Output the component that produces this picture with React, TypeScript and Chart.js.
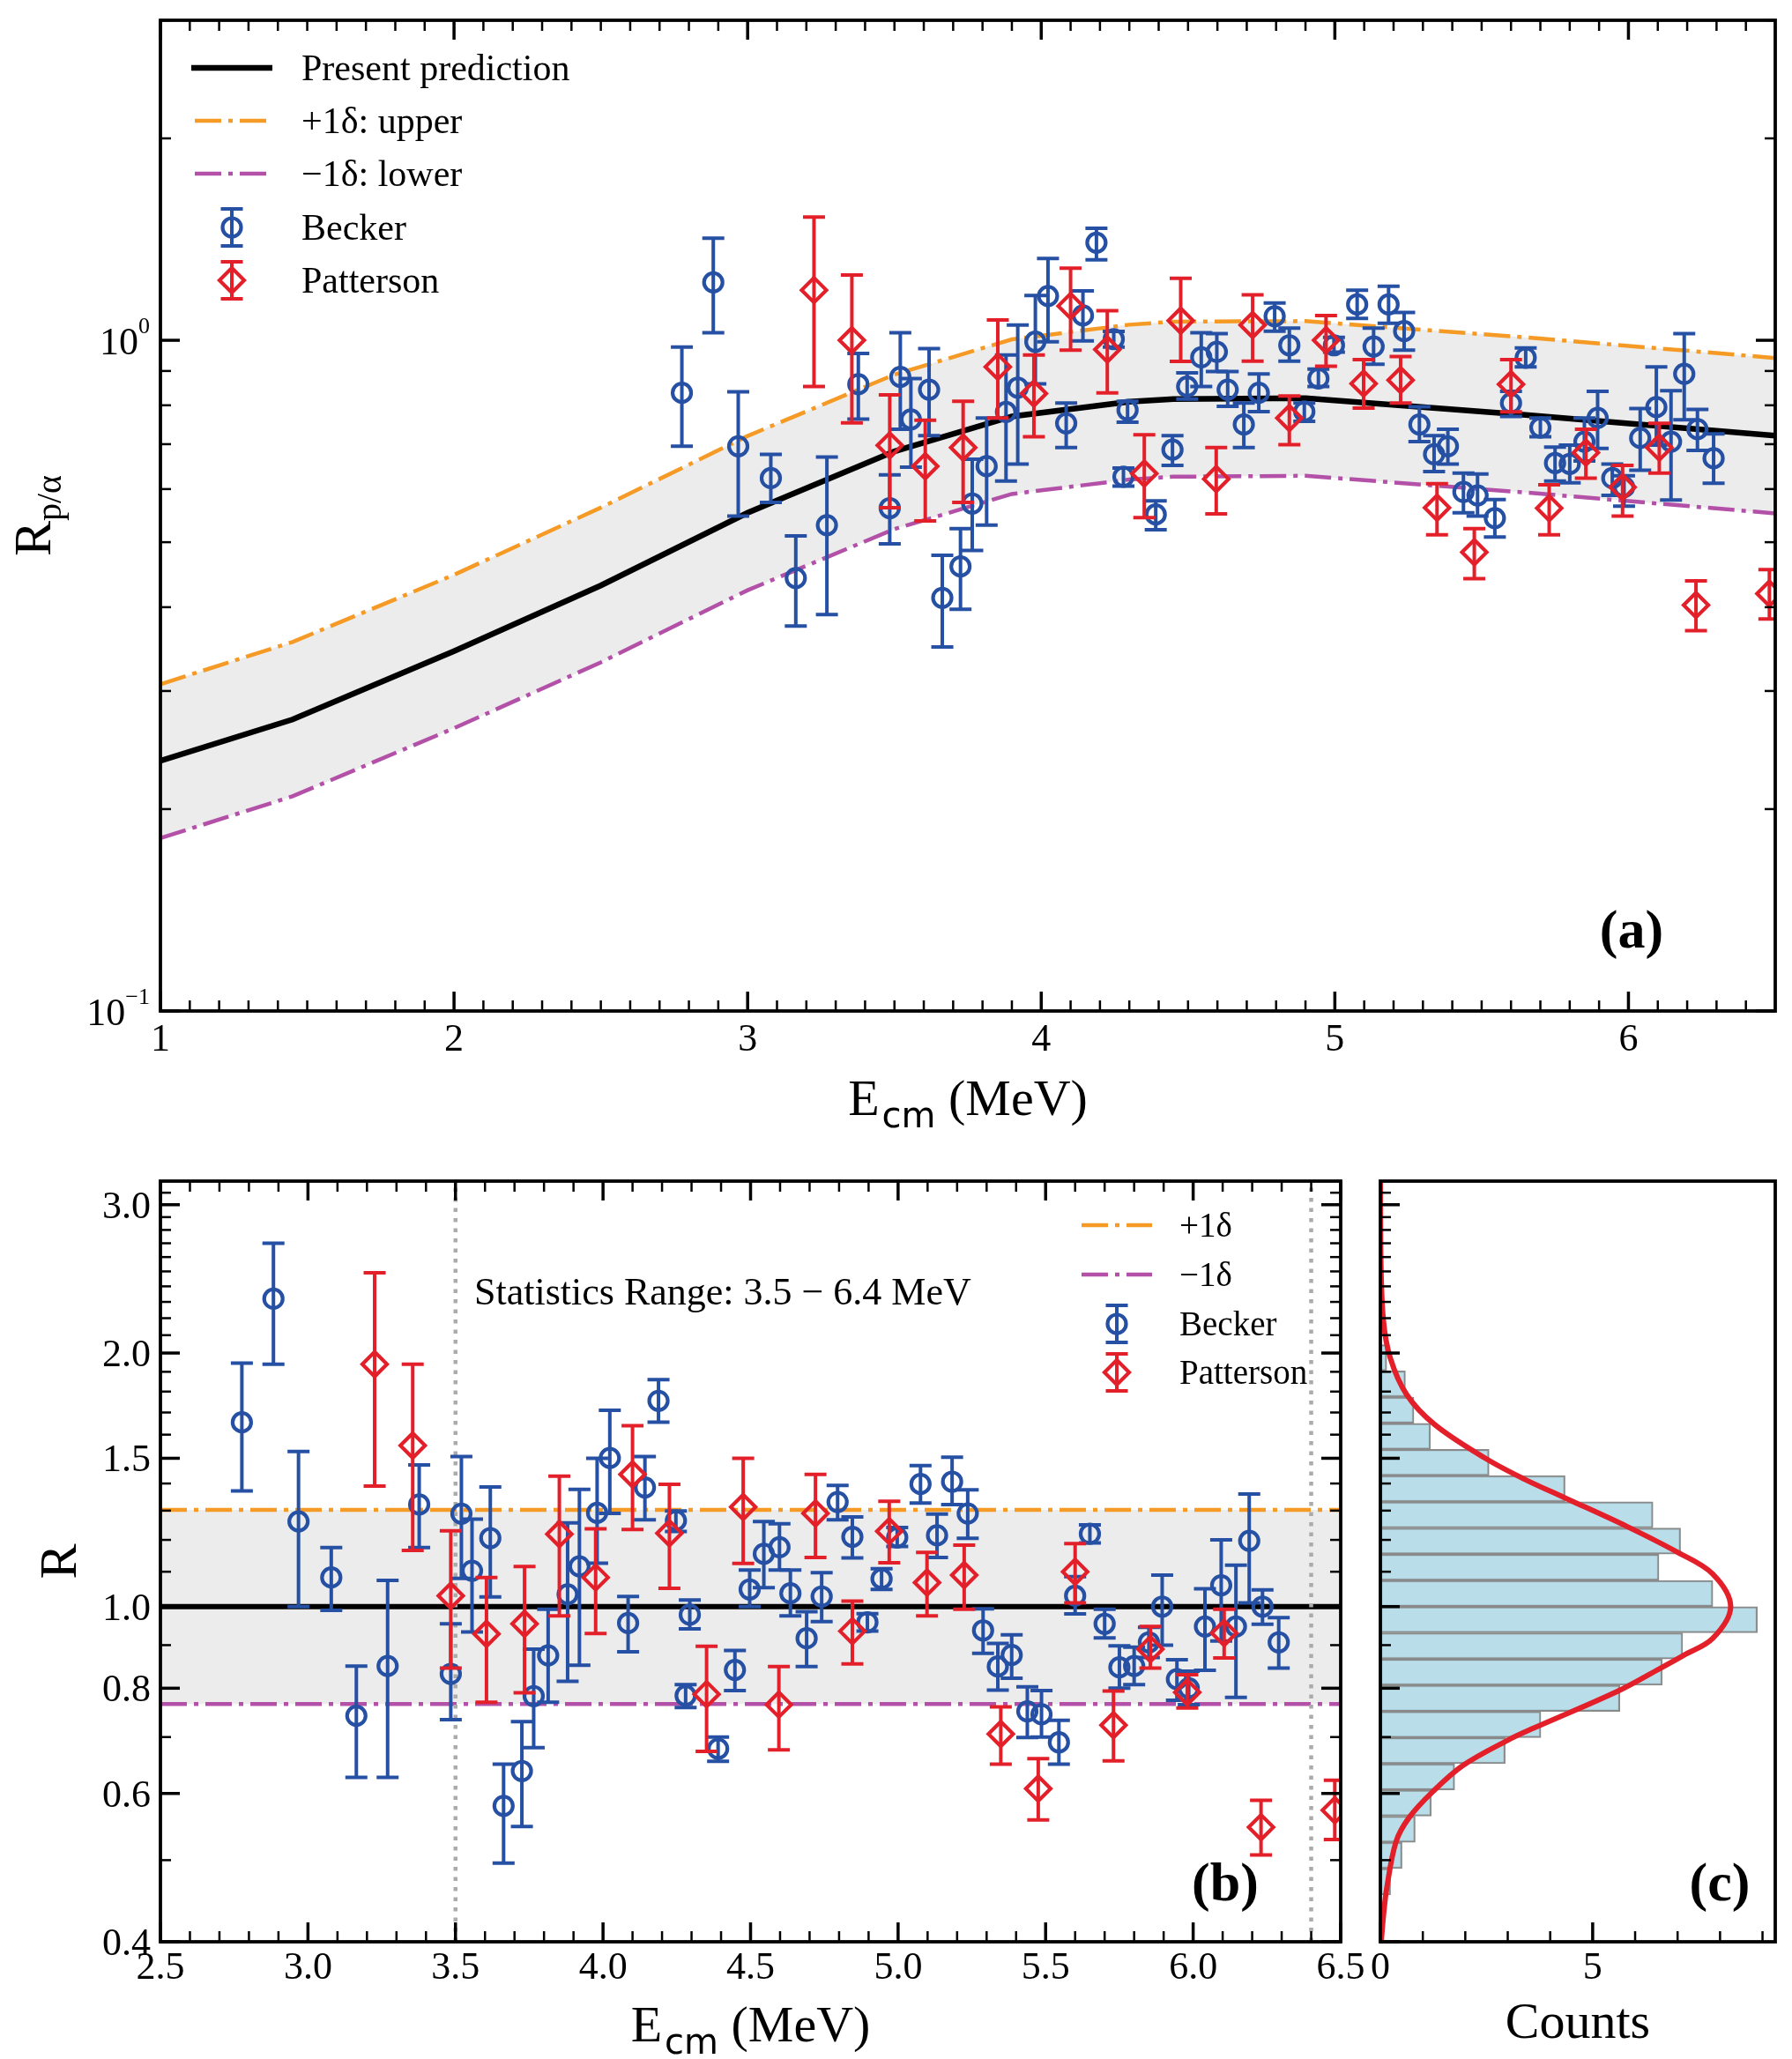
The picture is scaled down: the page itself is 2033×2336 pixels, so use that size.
import React, { useEffect, useRef } from "react";
import { Chart, registerables } from "chart.js";

Chart.register(...registerables);

/* ===================== DATA ===================== */
// Panel (a): prediction and +/-1 delta curves
const PRED_E = [1.0, 1.45, 2.0, 2.5, 3.0, 3.5, 3.9, 4.3, 4.45, 4.9, 5.65, 6.5];
const PRED = [0.236, 0.272, 0.344, 0.431, 0.553, 0.683, 0.77, 0.81, 0.817, 0.82, 0.774, 0.721];
const UPPER = [0.307, 0.355, 0.447, 0.563, 0.72, 0.889, 1.003, 1.055, 1.066, 1.068, 1.01, 0.941];
const LOWER = [0.181, 0.209, 0.264, 0.331, 0.424, 0.523, 0.59, 0.62, 0.626, 0.628, 0.593, 0.552];

// Becker data (energies shared by panels a and b)
const BECKER_E = [2.776, 2.883, 2.968, 3.079, 3.164, 3.27, 3.377, 3.484, 3.52, 3.556, 3.618, 3.663, 3.725, 3.765, 3.814, 3.88, 3.92, 3.98, 4.023, 4.085, 4.142, 4.188, 4.247, 4.294, 4.28, 4.39, 4.447, 4.497, 4.545, 4.598, 4.635, 4.69, 4.741, 4.795, 4.845, 4.896, 4.944, 4.997, 5.076, 5.132, 5.183, 5.236, 5.288, 5.338, 5.385, 5.438, 5.486, 5.545, 5.6, 5.65, 5.7, 5.75, 5.8, 5.85, 5.895, 5.945, 5.985, 6.04, 6.095, 6.145, 6.19, 6.235, 6.29];
const BECKER_RPA = [0.835, 1.22, 0.695, 0.623, 0.442, 0.53, 0.86, 0.562, 0.882, 0.762, 0.844, 0.413, 0.46, 0.571, 0.649, 0.782, 0.85, 0.995, 1.164, 0.752, 1.089, 1.398, 1.004, 0.787, 0.626, 0.55, 0.687, 0.853, 0.943, 0.961, 0.844, 0.749, 0.835, 1.086, 0.983, 0.783, 0.877, 0.983, 1.131, 0.979, 1.131, 1.032, 0.749, 0.676, 0.695, 0.594, 0.587, 0.543, 0.806, 0.942, 0.741, 0.656, 0.654, 0.706, 0.766, 0.623, 0.604, 0.715, 0.795, 0.706, 0.891, 0.737, 0.667];
const BECKER_RPA_LO = [0.695, 1.026, 0.547, 0.573, 0.375, 0.39, 0.763, 0.497, 0.737, 0.647, 0.721, 0.349, 0.397, 0.486, 0.53, 0.617, 0.654, 0.861, 0.995, 0.692, 0.998, 1.318, 0.977, 0.755, 0.606, 0.522, 0.651, 0.817, 0.853, 0.898, 0.797, 0.692, 0.783, 1.032, 0.931, 0.757, 0.853, 0.96, 1.078, 0.921, 1.06, 0.967, 0.706, 0.637, 0.654, 0.553, 0.547, 0.509, 0.77, 0.913, 0.718, 0.617, 0.613, 0.661, 0.69, 0.587, 0.566, 0.64, 0.698, 0.578, 0.761, 0.685, 0.612];
const BECKER_RPA_HI = [0.977, 1.42, 0.838, 0.676, 0.511, 0.67, 0.956, 0.63, 1.026, 0.877, 0.972, 0.478, 0.524, 0.665, 0.766, 0.951, 1.054, 1.166, 1.324, 0.806, 1.185, 1.469, 1.031, 0.811, 0.645, 0.576, 0.721, 0.894, 1.026, 1.023, 0.898, 0.806, 0.891, 1.137, 1.043, 0.806, 0.906, 1.01, 1.188, 1.043, 1.204, 1.1, 0.796, 0.721, 0.737, 0.634, 0.632, 0.579, 0.839, 0.974, 0.766, 0.693, 0.698, 0.766, 0.839, 0.654, 0.628, 0.791, 0.913, 0.841, 1.023, 0.789, 0.725];
const BECKER_R = [1.655, 2.32, 1.262, 1.083, 0.742, 0.85, 1.322, 0.832, 1.289, 1.103, 1.206, 0.58, 0.638, 0.783, 0.875, 1.034, 1.116, 1.292, 1.501, 0.956, 1.385, 1.755, 1.265, 0.978, 0.784, 0.678, 0.841, 1.048, 1.155, 1.176, 1.037, 0.917, 1.028, 1.331, 1.21, 0.958, 1.079, 1.208, 1.398, 1.215, 1.407, 1.29, 0.937, 0.849, 0.876, 0.751, 0.745, 0.69, 1.03, 1.22, 0.954, 0.847, 0.85, 0.907, 1.0, 0.82, 0.8, 0.947, 1.06, 0.947, 1.197, 1.0, 0.907];
const BECKER_R_LO = [1.372, 1.94, 1.0, 0.99, 0.627, 0.627, 1.175, 0.734, 1.08, 0.933, 1.027, 0.496, 0.548, 0.68, 0.77, 0.815, 0.852, 1.126, 1.29, 0.884, 1.268, 1.656, 1.228, 0.941, 0.759, 0.655, 0.795, 1.0, 1.053, 1.105, 0.975, 0.849, 0.96, 1.268, 1.142, 0.935, 1.048, 1.179, 1.327, 1.144, 1.322, 1.205, 0.88, 0.796, 0.822, 0.699, 0.7, 0.65, 0.98, 1.19, 0.918, 0.8, 0.808, 0.87, 0.9, 0.774, 0.765, 0.84, 0.91, 0.78, 1.01, 0.953, 0.845];
const BECKER_R_HI = [1.946, 2.7, 1.528, 1.175, 0.85, 1.074, 1.473, 0.954, 1.507, 1.27, 1.387, 0.65, 0.73, 0.89, 0.993, 1.257, 1.378, 1.5, 1.71, 1.028, 1.507, 1.86, 1.299, 1.018, 0.808, 0.7, 0.887, 1.105, 1.262, 1.254, 1.105, 0.986, 1.097, 1.393, 1.278, 0.981, 1.109, 1.241, 1.47, 1.288, 1.504, 1.376, 0.994, 0.904, 0.926, 0.803, 0.795, 0.733, 1.085, 1.25, 0.993, 0.898, 0.895, 0.945, 1.09, 0.865, 0.838, 1.05, 1.2, 1.12, 1.36, 1.047, 0.97];

// Patterson data
const PATTERSON_E = [3.226, 3.355, 3.484, 3.605, 3.734, 3.852, 3.975, 4.1, 4.225, 4.351, 4.475, 4.596, 4.72, 4.845, 4.97, 5.098, 5.224, 5.348, 5.475, 5.6, 5.73, 5.855, 5.98, 6.105, 6.23, 6.48];
const PATTERSON_RPA = [1.188, 1.0, 0.697, 0.649, 0.692, 0.913, 0.833, 1.125, 0.969, 0.633, 1.07, 0.621, 1.054, 0.766, 1.0, 0.862, 0.872, 0.563, 0.483, 0.86, 0.562, 0.68, 0.604, 0.692, 0.403, 0.419];
const PATTERSON_RPA_LO = [0.853, 0.753, 0.563, 0.538, 0.573, 0.766, 0.718, 0.967, 0.835, 0.544, 0.93, 0.551, 0.931, 0.699, 0.915, 0.792, 0.806, 0.513, 0.441, 0.782, 0.513, 0.623, 0.547, 0.634, 0.369, 0.384];
const PATTERSON_RPA_HI = [1.527, 1.251, 0.829, 0.76, 0.811, 1.072, 0.951, 1.281, 1.107, 0.723, 1.237, 0.692, 1.169, 0.826, 1.089, 0.936, 0.946, 0.611, 0.524, 0.936, 0.609, 0.737, 0.651, 0.752, 0.438, 0.455];
const PATTERSON_R = [1.94, 1.553, 1.03, 0.928, 0.954, 1.219, 1.083, 1.435, 1.222, 0.787, 1.313, 0.765, 1.29, 0.935, 1.229, 1.068, 1.09, 0.706, 0.608, 1.1, 0.723, 0.89, 0.791, 0.93, 0.547, 0.573];
const PATTERSON_R_LO = [1.39, 1.166, 0.845, 0.77, 0.79, 0.975, 0.929, 1.235, 1.051, 0.673, 1.125, 0.676, 1.144, 0.855, 1.127, 0.975, 0.993, 0.65, 0.558, 1.01, 0.656, 0.845, 0.758, 0.869, 0.507, 0.529];
const PATTERSON_R_HI = [2.49, 1.94, 1.23, 1.083, 1.116, 1.428, 1.237, 1.64, 1.397, 0.897, 1.5, 0.849, 1.435, 1.015, 1.334, 1.16, 1.183, 0.76, 0.66, 1.188, 0.794, 0.947, 0.83, 0.993, 0.589, 0.622];

// Panel (b) reference lines
const B_LINE_E = [2.5, 6.5];
const B_UPPER = [1.303, 1.303];
const B_LOWER = [0.766, 0.766];
const B_UNITY = [1.0, 1.0];
const STAT_RANGE = [3.5, 6.4];
const B_Y_SPAN = [0.4, 3.2];

// Panel (c) histogram (bin centres in R, counts) and fitted curve
const HIST_R = [0.4715, 0.5065, 0.5441, 0.5845, 0.6278, 0.6744, 0.7245, 0.7783, 0.836, 0.8981, 0.9648, 1.0365, 1.1134, 1.1961, 1.2849, 1.3803, 1.4827, 1.5928, 1.711, 1.838, 1.9745];
const HIST_COUNTS = [0.24, 0.51, 0.82, 1.2, 1.75, 2.94, 3.78, 5.64, 6.64, 7.12, 8.88, 7.83, 6.56, 7.07, 6.42, 4.35, 2.56, 1.18, 0.79, 0.59, 0.15];
const FIT_R = [0.4, 0.428, 0.463, 0.526, 0.562, 0.602, 0.648, 0.694, 0.717, 0.794, 0.844, 0.875, 0.917, 1.0, 1.093, 1.16, 1.244, 1.346, 1.416, 1.497, 1.643, 1.785, 1.976, 2.19, 2.6, 3.2];
const FIT_COUNTS = [0.02, 0.07, 0.15, 0.37, 0.68, 1.22, 1.95, 3.0, 3.6, 5.6, 6.58, 7.14, 7.83, 8.25, 7.83, 7.0, 5.82, 4.35, 3.4, 2.5, 1.29, 0.62, 0.23, 0.07, 0.01, 0.0];

// Tick labels
const A_X_MAJOR = [1, 2, 3, 4, 5, 6];
const A_X_LABELS = ["1", "2", "3", "4", "5", "6"];
const A_Y_MAJOR = [0.1, 1];
const A_Y_EXP = ["\u22121", "0"];
const A_Y_MINOR = [0.2, 0.3, 0.4, 0.5, 0.6, 0.7, 0.8, 0.9, 2, 3];
const B_X_MAJOR = [2.5, 3.0, 3.5, 4.0, 4.5, 5.0, 5.5, 6.0, 6.5];
const B_X_LABELS = ["2.5", "3.0", "3.5", "4.0", "4.5", "5.0", "5.5", "6.0", "6.5"];
const B_Y_MAJOR = [0.4, 0.6, 0.8, 1.0, 1.5, 2.0, 3.0];
const B_Y_LABELS = ["0.4", "0.6", "0.8", "1.0", "1.5", "2.0", "3.0"];
const C_X_MAJOR = [0, 5];
const C_X_LABELS = ["0", "5"];
const C_X_MINOR = [1, 2, 3, 4, 6, 7, 8, 9];

const stepList = (a: number, b: number, n: number) => Array.from({ length: n + 1 }, (_, i) => +(a + ((b - a) * i) / n).toFixed(2));
const A_X_MINOR = stepList(1, 6.5, 55).filter((v) => !A_X_MAJOR.includes(v) && v < 6.5);
const B_X_MINOR = stepList(2.5, 6.5, 40).filter((v) => !B_X_MAJOR.includes(v));
const B_Y_MINOR = stepList(0.4, 3.2, 28).filter((v) => !B_Y_MAJOR.includes(v) && v < 3.2);

/* ===================== STYLE ===================== */
const SERIF = '"Liberation Serif", "Times New Roman", Times, serif';
const SANS = '"DejaVu Sans", "Liberation Sans", Arial, sans-serif';
const BLUE = "#2550a3";
const RED = "#e3202a";
const ORANGE = "#f59b25";
const PURPLE = "#b350a7";
const BAND = "#ececec";
const DASHDOT = [30, 8, 5, 8];
const MAJ = 22;
const MINL = 12;
const CAP = 12.5;
const MK_W = 4.2;
const EB_W = 4;

const pts = (xs: number[], ys: number[]) => xs.map((x, i) => ({ x, y: ys[i] }));

/* ===================== DRAW HELPERS ===================== */
function drawAxes(ctx: any, a: any, xs: any, ys: any, s: any) {
  ctx.save();
  ctx.strokeStyle = "#000";
  ctx.lineCap = "butt";
  const ln = (x1: number, y1: number, x2: number, y2: number, w: number) => {
    ctx.lineWidth = w;
    ctx.beginPath();
    ctx.moveTo(x1, y1);
    ctx.lineTo(x2, y2);
    ctx.stroke();
  };
  const xt = (vals: number[], L: number, w: number) =>
    vals.forEach((v) => {
      const x = xs.getPixelForValue(v);
      ln(x, a.bottom, x, a.bottom - L, w);
      if (s.top) ln(x, a.top, x, a.top + L, w);
    });
  const yt = (vals: number[], L: number, w: number) =>
    vals.forEach((v) => {
      const y = ys.getPixelForValue(v);
      ln(a.left, y, a.left + L, y, w);
      if (s.right) ln(a.right, y, a.right - L, y, w);
    });
  xt(s.xMajor, MAJ, 3.5);
  xt(s.xMinor, MINL, 2.5);
  yt(s.yMajor, MAJ, 3.5);
  yt(s.yMinor, MINL, 2.5);
  ctx.lineWidth = 3.8;
  ctx.strokeRect(a.left, a.top, a.right - a.left, a.bottom - a.top);
  ctx.restore();
}

function drawEcm(ctx: any, cx: number, base: number) {
  ctx.save();
  ctx.fillStyle = "#000";
  ctx.textBaseline = "alphabetic";
  ctx.textAlign = "left";
  ctx.font = `58px ${SERIF}`;
  const wE = ctx.measureText("E").width;
  const wM = ctx.measureText(" (MeV)").width;
  ctx.font = `40px ${SANS}`;
  const wC = ctx.measureText("cm").width;
  const total = wE + 3 + wC + wM;
  let x = cx - total / 2;
  ctx.font = `58px ${SERIF}`;
  ctx.fillText("E", x, base);
  x += wE + 3;
  ctx.font = `40px ${SANS}`;
  ctx.fillText("cm", x, base + 14);
  x += wC;
  ctx.font = `58px ${SERIF}`;
  ctx.fillText(" (MeV)", x, base);
  ctx.restore();
}

function drawLegendLine(ctx: any, x1: number, x2: number, y: number, color: string, w: number, dash: number[]) {
  ctx.save();
  ctx.strokeStyle = color;
  ctx.lineWidth = w;
  ctx.lineCap = "butt";
  ctx.setLineDash(dash);
  ctx.beginPath();
  ctx.moveTo(x1, y);
  ctx.lineTo(x2, y);
  ctx.stroke();
  ctx.restore();
}

function drawErrMarker(ctx: any, x: number, y: number, color: string, kind: string) {
  ctx.save();
  ctx.strokeStyle = color;
  ctx.lineWidth = EB_W;
  ctx.beginPath();
  ctx.moveTo(x, y - 21);
  ctx.lineTo(x, y + 21);
  ctx.moveTo(x - CAP, y - 21);
  ctx.lineTo(x + CAP, y - 21);
  ctx.moveTo(x - CAP, y + 21);
  ctx.lineTo(x + CAP, y + 21);
  ctx.stroke();
  ctx.lineWidth = MK_W;
  ctx.beginPath();
  if (kind === "circle") ctx.arc(x, y, 10.5, 0, Math.PI * 2);
  else {
    ctx.moveTo(x, y - 14);
    ctx.lineTo(x + 14, y);
    ctx.lineTo(x, y + 14);
    ctx.lineTo(x - 14, y);
    ctx.closePath();
  }
  ctx.stroke();
  ctx.restore();
}

function text(ctx: any, s: string, x: number, y: number, font: string, align = "left") {
  ctx.save();
  ctx.fillStyle = "#000";
  ctx.font = font;
  ctx.textAlign = align;
  ctx.textBaseline = "alphabetic";
  ctx.fillText(s, x, y);
  ctx.restore();
}

function rotatedLabel(ctx: any, cx: number, cy: number, main: string, sub: string) {
  ctx.save();
  ctx.translate(cx, cy);
  ctx.rotate(-Math.PI / 2);
  ctx.fillStyle = "#000";
  ctx.textBaseline = "alphabetic";
  ctx.textAlign = "left";
  ctx.font = `60px ${SERIF}`;
  const wR = ctx.measureText(main).width;
  ctx.font = `40px ${SERIF}`;
  const wS = sub ? ctx.measureText(sub).width : 0;
  const x0 = -(wR + wS) / 2;
  ctx.font = `60px ${SERIF}`;
  ctx.fillText(main, x0, 0);
  if (sub) {
    ctx.font = `40px ${SERIF}`;
    ctx.fillText(sub, x0 + wR, 12);
  }
  ctx.restore();
}

/* error bars drawn just before each marker dataset */
const errorBarPlugin = {
  id: "errorBars",
  beforeDatasetDraw(chart: any, args: any) {
    const ds: any = chart.data.datasets[args.index];
    if (!ds.errLo) return;
    const meta = args.meta;
    const ys = chart.scales[meta.yAxisID];
    const a = chart.chartArea;
    const ctx = chart.ctx;
    ctx.save();
    ctx.beginPath();
    ctx.rect(a.left, a.top, a.right - a.left, a.bottom - a.top);
    ctx.clip();
    ctx.strokeStyle = ds.errColor;
    ctx.lineWidth = EB_W;
    ctx.lineCap = "butt";
    meta.data.forEach((el: any, j: number) => {
      const x = el.x;
      const y1 = ys.getPixelForValue(ds.errLo[j]);
      const y2 = ys.getPixelForValue(ds.errHi[j]);
      ctx.beginPath();
      ctx.moveTo(x, y1);
      ctx.lineTo(x, y2);
      ctx.moveTo(x - CAP, y1);
      ctx.lineTo(x + CAP, y1);
      ctx.moveTo(x - CAP, y2);
      ctx.lineTo(x + CAP, y2);
      ctx.stroke();
    });
    ctx.restore();
  },
};

const baseOptions = (padding: any) => ({
  responsive: false,
  animation: false as const,
  devicePixelRatio: 1,
  events: [] as any[],
  layout: { padding },
  plugins: {
    legend: { display: false },
    tooltip: { enabled: false },
    filler: { drawTime: "beforeDatasetsDraw" },
  },
});

const lineDs = (data: any, color: string, width: number, dash: number[] = [], extra: any = {}) => ({
  type: "line",
  data,
  borderColor: color,
  borderWidth: width,
  borderDash: dash,
  borderCapStyle: "butt",
  pointRadius: 0,
  fill: false,
  tension: 0,
  clip: 0,
  ...extra,
});

const markerDs = (data: any, color: string, style: string, radius: number, lo: number[], hi: number[], order: number) => ({
  type: "line",
  data,
  showLine: false,
  pointStyle: style,
  pointRadius: radius,
  pointBorderWidth: MK_W,
  pointBorderColor: color,
  pointBackgroundColor: "rgba(0,0,0,0)",
  clip: 0,
  order,
  errLo: lo,
  errHi: hi,
  errColor: color,
});

/* ===================== PANEL (a) ===================== */
function buildA() {
  const plugin = {
    id: "panelA",
    afterDraw(chart: any) {
      const ctx = chart.ctx;
      const a = chart.chartArea;
      const xs = chart.scales.x;
      const ys = chart.scales.y;
      drawAxes(ctx, a, xs, ys, { xMajor: A_X_MAJOR, xMinor: A_X_MINOR, yMajor: A_Y_MAJOR, yMinor: A_Y_MINOR, top: true, right: true });
      A_X_MAJOR.forEach((v, i) => text(ctx, A_X_LABELS[i], xs.getPixelForValue(v), 1192, `44px ${SERIF}`, "center"));
      A_Y_MAJOR.forEach((v, i) => {
        const y = ys.getPixelForValue(v);
        ctx.save();
        ctx.font = `26px ${SERIF}`;
        const wSup = ctx.measureText(A_Y_EXP[i]).width;
        ctx.font = `44px ${SERIF}`;
        const wB = ctx.measureText("10").width;
        ctx.restore();
        const right = a.left - 12;
        text(ctx, "10", right - wSup - wB, y + 16, `44px ${SERIF}`);
        text(ctx, A_Y_EXP[i], right - wSup, y - 8, `26px ${SERIF}`);
      });
      drawEcm(ctx, (a.left + a.right) / 2, 1265);
      rotatedLabel(ctx, 57, (a.top + a.bottom) / 2, "R", "p/\u03b1");
      // legend
      const rows = [77, 137, 197, 258, 318];
      drawLegendLine(ctx, 217, 309, rows[0], "#000", 6.5, []);
      drawLegendLine(ctx, 221, 305, rows[1], ORANGE, 4.5, DASHDOT);
      drawLegendLine(ctx, 221, 305, rows[2], PURPLE, 4.5, DASHDOT);
      drawErrMarker(ctx, 263, rows[3], BLUE, "circle");
      drawErrMarker(ctx, 263, rows[4], RED, "diamond");
      const lf = `42px ${SERIF}`;
      text(ctx, "Present prediction", 342, rows[0] + 14, lf);
      text(ctx, "+1\u03b4: upper", 342, rows[1] + 14, lf);
      text(ctx, "\u22121\u03b4: lower", 342, rows[2] + 14, lf);
      text(ctx, "Becker", 342, rows[3] + 14, lf);
      text(ctx, "Patterson", 342, rows[4] + 14, lf);
      text(ctx, "(a)", 1851, 1075, `bold 62px ${SERIF}`, "center");
    },
  };
  return {
    type: "line",
    data: {
      datasets: [
        lineDs(pts(PRED_E, LOWER), PURPLE, 4.5, DASHDOT, { order: 5 }),
        lineDs(pts(PRED_E, UPPER), ORANGE, 4.5, DASHDOT, { order: 4, fill: "-1", backgroundColor: BAND }),
        lineDs(pts(PRED_E, PRED), "#000", 6.5, [], { order: 3 }),
        markerDs(pts(BECKER_E, BECKER_RPA), BLUE, "circle", 10.5, BECKER_RPA_LO, BECKER_RPA_HI, 1),
        markerDs(pts(PATTERSON_E, PATTERSON_RPA), RED, "rectRot", 14, PATTERSON_RPA_LO, PATTERSON_RPA_HI, 0),
      ],
    },
    options: {
      ...baseOptions({ left: 182, top: 23, right: 19, bottom: 153 }),
      scales: {
        x: { type: "linear", min: 1, max: 6.5, display: false },
        y: { type: "logarithmic", min: 0.1, max: 3.0, display: false },
      },
    },
    plugins: [errorBarPlugin, plugin],
  };
}

/* ===================== PANEL (b) ===================== */
function buildB() {
  const plugin = {
    id: "panelB",
    afterDraw(chart: any) {
      const ctx = chart.ctx;
      const a = chart.chartArea;
      const xs = chart.scales.x;
      const ys = chart.scales.y;
      drawAxes(ctx, a, xs, ys, { xMajor: B_X_MAJOR, xMinor: B_X_MINOR, yMajor: B_Y_MAJOR, yMinor: B_Y_MINOR, top: true, right: true });
      B_X_MAJOR.forEach((v, i) => text(ctx, B_X_LABELS[i], xs.getPixelForValue(v), 945, `44px ${SERIF}`, "center"));
      B_Y_MAJOR.forEach((v, i) => text(ctx, B_Y_LABELS[i], a.left - 11, ys.getPixelForValue(v) + 15, `44px ${SERIF}`, "right"));
      drawEcm(ctx, (a.left + a.right) / 2, 1016);
      rotatedLabel(ctx, 86, (a.top + a.bottom) / 2, "R", "");
      text(ctx, "Statistics Range: 3.5 \u2212 6.4 MeV", 538, 180, `44px ${SERIF}`);
      const rows = [90, 146, 202, 257];
      drawLegendLine(ctx, 1227, 1307, rows[0], ORANGE, 4.5, DASHDOT);
      drawLegendLine(ctx, 1227, 1307, rows[1], PURPLE, 4.5, DASHDOT);
      drawErrMarker(ctx, 1267, rows[2], BLUE, "circle");
      drawErrMarker(ctx, 1267, rows[3], RED, "diamond");
      const lf = `39px ${SERIF}`;
      text(ctx, "+1\u03b4", 1338, rows[0] + 13, lf);
      text(ctx, "\u22121\u03b4", 1338, rows[1] + 13, lf);
      text(ctx, "Becker", 1338, rows[2] + 13, lf);
      text(ctx, "Patterson", 1338, rows[3] + 13, lf);
      text(ctx, "(b)", 1390, 856, `bold 62px ${SERIF}`, "center");
    },
  };
  return {
    type: "line",
    data: {
      datasets: [
        lineDs(pts(B_LINE_E, B_LOWER), PURPLE, 4.5, DASHDOT, { order: 6 }),
        lineDs(pts(B_LINE_E, B_UPPER), ORANGE, 4.5, DASHDOT, { order: 5, fill: "-1", backgroundColor: BAND }),
        lineDs(pts(B_LINE_E, B_UNITY), "#000", 6, [], { order: 4 }),
        lineDs(pts([STAT_RANGE[0], STAT_RANGE[0]], B_Y_SPAN), "#ababab", 4.5, [4.5, 7], { order: 3 }),
        lineDs(pts([STAT_RANGE[1], STAT_RANGE[1]], B_Y_SPAN), "#ababab", 4.5, [4.5, 7], { order: 3 }),
        markerDs(pts(BECKER_E, BECKER_R), BLUE, "circle", 10.5, BECKER_R_LO, BECKER_R_HI, 1),
        markerDs(pts(PATTERSON_E, PATTERSON_R), RED, "rectRot", 14, PATTERSON_R_LO, PATTERSON_R_HI, 0),
      ],
    },
    options: {
      ...baseOptions({ left: 182, top: 40, right: 31, bottom: 133 }),
      scales: {
        x: { type: "linear", min: 2.5, max: 6.5, display: false },
        y: { type: "logarithmic", min: 0.4, max: 3.2, display: false },
      },
    },
    plugins: [errorBarPlugin, plugin],
  };
}

/* ===================== PANEL (c) ===================== */
function buildC() {
  const plugin = {
    id: "panelC",
    afterDraw(chart: any) {
      const ctx = chart.ctx;
      const a = chart.chartArea;
      const xs = chart.scales.x;
      const ys = chart.scales.y;
      drawAxes(ctx, a, xs, ys, { xMajor: C_X_MAJOR, xMinor: C_X_MINOR, yMajor: B_Y_MAJOR, yMinor: B_Y_MINOR, top: false, right: false });
      C_X_MAJOR.forEach((v, i) => text(ctx, C_X_LABELS[i], xs.getPixelForValue(v), 945, `44px ${SERIF}`, "center"));
      text(ctx, "Counts", (a.left + a.right) / 2, 1012, `58px ${SERIF}`, "center");
      text(ctx, "(c)", 411, 856, `bold 62px ${SERIF}`, "center");
    },
  };
  return {
    type: "bar",
    data: {
      datasets: [
        {
          type: "bar",
          data: pts(HIST_COUNTS, HIST_R),
          backgroundColor: "rgba(173,216,230,0.85)",
          borderColor: "#8a8a8a",
          borderWidth: 2,
          borderSkipped: false,
          categoryPercentage: 1,
          barPercentage: 1,
          order: 1,
        },
        {
          type: "line",
          indexAxis: "y",
          data: pts(FIT_COUNTS, FIT_R),
          borderColor: RED,
          borderWidth: 6,
          pointRadius: 0,
          fill: false,
          tension: 0.35,
          clip: 0,
          order: 0,
        },
      ],
    },
    options: {
      ...baseOptions({ left: 26, top: 40, right: 19, bottom: 133 }),
      indexAxis: "y",
      scales: {
        x: { type: "linear", min: 0, max: 9.3, display: false },
        y: {
          type: "logarithmic",
          min: 0.4,
          max: 3.2,
          display: false,
          offset: false,
          afterBuildTicks: (s: any) => {
            s.ticks = [{ value: 1 }];
          },
        },
      },
    },
    plugins: [plugin],
  };
}

/* ===================== COMPONENTS ===================== */
function PanelCanvas(props: { left: number; top: number; width: number; height: number; make: () => any }) {
  const ref = useRef<HTMLCanvasElement | null>(null);
  useEffect(() => {
    if (!ref.current) return;
    const chart = new Chart(ref.current, props.make());
    return () => chart.destroy();
  }, []);
  return (
    <canvas
      ref={ref}
      width={props.width}
      height={props.height}
      style={{ position: "absolute", left: props.left, top: props.top, width: props.width, height: props.height }}
    />
  );
}

export default function App() {
  return (
    <div style={{ position: "absolute", left: 0, top: 0, width: 2033, height: 2336, background: "#fff", overflow: "hidden" }}>
      <PanelCanvas left={0} top={0} width={2033} height={1300} make={buildA} />
      <PanelCanvas left={0} top={1300} width={1552} height={1036} make={buildB} />
      <PanelCanvas left={1540} top={1300} width={493} height={1036} make={buildC} />
    </div>
  );
}
